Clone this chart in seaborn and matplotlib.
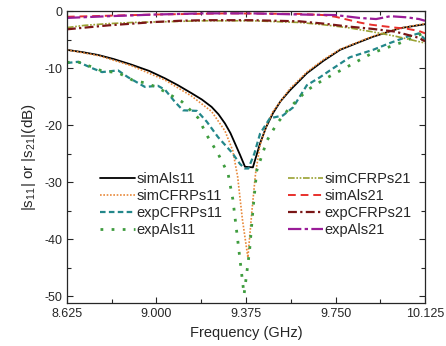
import matplotlib
matplotlib.use("Agg")
import matplotlib.pyplot as plt
from matplotlib.ticker import MultipleLocator, FixedLocator
import seaborn as sns

# S11 curves (GHz, dB)
f_simAls11 = [8.625, 8.69, 8.756, 8.82, 8.896, 8.97, 9.036, 9.09, 9.147, 9.19, 9.231, 9.26,
              9.287, 9.31, 9.329, 9.35, 9.371, 9.404, 9.434, 9.46, 9.488, 9.52, 9.559, 9.63,
              9.7, 9.769, 9.84, 9.907, 10.02, 10.125]
simAls11 = [-6.8, -7.2, -7.7, -8.4, -9.4, -10.5, -11.8, -13.0, -14.4, -15.5, -16.8, -18.1,
            -19.7, -21.4, -23.2, -25.2, -27.3, -27.4, -23.2, -20.3, -17.9, -15.8, -13.9, -10.9,
            -8.7, -6.8, -5.6, -4.5, -3.0, -2.3]

f_simCFRPs11 = [8.625, 8.756, 8.896, 9.036, 9.147, 9.231, 9.287, 9.32, 9.34, 9.36, 9.383, 9.40,
                9.415, 9.434, 9.46, 9.488, 9.559, 9.63, 9.7, 9.769, 9.907, 10.02, 10.125]
simCFRPs11 = [-6.8, -7.8, -9.6, -12.1, -14.9, -17.6, -21.0, -24.5, -29.0, -36.5, -43.2, -35.0,
              -28.5, -23.5, -20.2, -17.6, -13.6, -10.7, -8.5, -6.7, -4.4, -3.0, -2.2]

f_expCFRPs11 = [8.625, 8.671, 8.73, 8.772, 8.839, 8.881, 8.952, 9.006, 9.036, 9.077, 9.111,
                9.17, 9.211, 9.258, 9.316, 9.35, 9.37, 9.385, 9.41, 9.434, 9.475, 9.53, 9.572,
                9.63, 9.685, 9.727, 9.81, 9.907, 9.978, 10.05, 10.1, 10.125]
expCFRPs11 = [-9.1, -8.9, -10.0, -10.7, -10.4, -11.6, -13.3, -13.1, -13.8, -15.9, -17.4,
              -17.5, -19.4, -22.1, -24.8, -26.8, -27.6, -27.6, -25.0, -21.5, -18.8, -18.3, -16.9,
              -13.0, -11.6, -10.4, -8.1, -6.8, -5.6, -4.5, -3.9, -5.0]

f_expAls11 = [8.625, 8.671, 8.73, 8.772, 8.839, 8.9, 8.952, 9.0, 9.05, 9.107, 9.174, 9.216,
              9.258, 9.3, 9.32, 9.34, 9.367, 9.39, 9.405, 9.42, 9.463, 9.505, 9.559, 9.63,
              9.697, 9.798, 9.907, 10.02, 10.1, 10.125]
expAls11 = [-9.0, -8.9, -9.8, -10.5, -10.8, -12.1, -12.6, -13.3, -14.5, -15.9, -18.7, -22.1,
            -25.0, -28.5, -33.0, -40.0, -49.7, -42.0, -34.5, -28.0, -22.7, -19.7, -16.9, -13.9,
            -12.1, -9.8, -7.3, -5.6, -4.2, -3.8]

# S21 curves
f_simCFRPs21 = [8.625, 8.7, 8.8, 8.9, 9.0, 9.2, 9.4, 9.6, 9.7, 9.8, 9.9, 10.0, 10.125]
simCFRPs21 = [-2.9, -2.5, -2.2, -2.0, -1.9, -1.7, -1.7, -2.0, -2.4, -2.9, -3.6, -4.4, -5.6]

f_simAls21 = [8.625, 9.0, 9.3, 9.6, 9.7, 9.75, 9.8, 9.85, 9.9, 10.0, 10.05, 10.1, 10.125]
simAls21 = [-1.0, -0.6, -0.4, -0.5, -0.7, -1.0, -1.5, -2.0, -2.4, -2.9, -3.1, -3.5, -3.9]

f_expCFRPs21 = [8.625, 8.7, 8.8, 8.9, 9.0, 9.1, 9.2, 9.3, 9.4, 9.5, 9.6, 9.7, 9.8, 9.9,
                10.0, 10.1, 10.125]
expCFRPs21 = [-3.2, -2.9, -2.5, -2.2, -1.9, -1.7, -1.6, -1.6, -1.6, -1.7, -1.8, -2.2, -2.7, -3.1,
              -3.6, -4.7, -5.3]

f_expAls21 = [8.625, 8.8, 9.0, 9.2, 9.4, 9.6, 9.75, 9.85, 9.92, 9.98, 10.05, 10.1, 10.125]
expAls21 = [-1.2, -0.9, -0.6, -0.4, -0.4, -0.6, -0.7, -1.2, -1.4, -0.9, -1.1, -1.4, -1.7]

xticks = [8.625, 9.000, 9.375, 9.750, 10.125]
xticklabels = ["8.625", "9.000", "9.375", "9.750", "10.125"]

sns.set_theme(style="ticks")
plt.rcParams["font.family"] = ["Liberation Sans", "DejaVu Sans"]
plt.rcParams["mathtext.fontset"] = "custom"
plt.rcParams["mathtext.rm"] = "Liberation Sans"
plt.rcParams["mathtext.it"] = "Liberation Sans"
plt.rcParams["axes.unicode_minus"] = False

fig, ax = plt.subplots(figsize=(4.46, 3.46), dpi=100)
fig.subplots_adjust(left=0.150, right=0.953, top=0.968, bottom=0.124)

# series: (x, y, label, color, linestyle, linewidth)
series = [
    (f_simAls11, simAls11, "simAls11", "black", "-", 1.3),
    (f_simCFRPs11, simCFRPs11, "simCFRPs11", "#e8893a", (0, (1, 1)), 1.2),
    (f_expCFRPs11, expCFRPs11, "expCFRPs11", "#23878a", (0, (2.5, 1.5)), 1.6),
    (f_expAls11, expAls11, "expAls11", "#3e9c3e", (0, (1, 3)), 2.0),
    (f_simCFRPs21, simCFRPs21, "simCFRPs21", "#9aa232", (0, (4, 1, 1, 1, 1, 1)), 1.2),
    (f_simAls21, simAls21, "simAls21", "#e8302c", (0, (4, 2.5)), 1.4),
    (f_expCFRPs21, expCFRPs21, "expCFRPs21", "#7a1616", (0, (4, 1.5, 1, 1.5)), 1.6),
    (f_expAls21, expAls21, "expAls21", "#9a1c98", (0, (6, 1.5, 1.5, 1.5)), 1.6),
]

for x, y, lab, col, ls, lw in series:
    sns.lineplot(x=x, y=y, ax=ax, color=col, linestyle=ls, linewidth=lw, label=lab)

ax.set_xlim(8.625, 10.125)
ax.set_ylim(-51.2, 0)
ax.xaxis.set_major_locator(FixedLocator(xticks))
ax.set_xticklabels(xticklabels)
ax.xaxis.set_minor_locator(MultipleLocator(0.1875))
ax.yaxis.set_major_locator(MultipleLocator(10))
ax.yaxis.set_minor_locator(MultipleLocator(5))
ax.tick_params(which="both", direction="in", top=True, right=True, labelsize=9, width=0.8)
ax.tick_params(which="major", length=4)
ax.tick_params(which="minor", length=3)
for s in ax.spines.values():
    s.set_linewidth(0.9)

ax.set_xlabel("Frequency (GHz)", fontsize=10.5)
ax.set_ylabel(r"|s$_{11}$| or |s$_{21}$|(dB)", fontsize=11, labelpad=4)

ax.legend(ncol=2, frameon=False, loc="upper left", bbox_to_anchor=(0.092, 0.45),
          fontsize=10.5, handlelength=2.4, handletextpad=0.1, labelspacing=0.22,
          columnspacing=4.5, borderpad=0, borderaxespad=0)

fig.savefig("out.png", dpi=100)
